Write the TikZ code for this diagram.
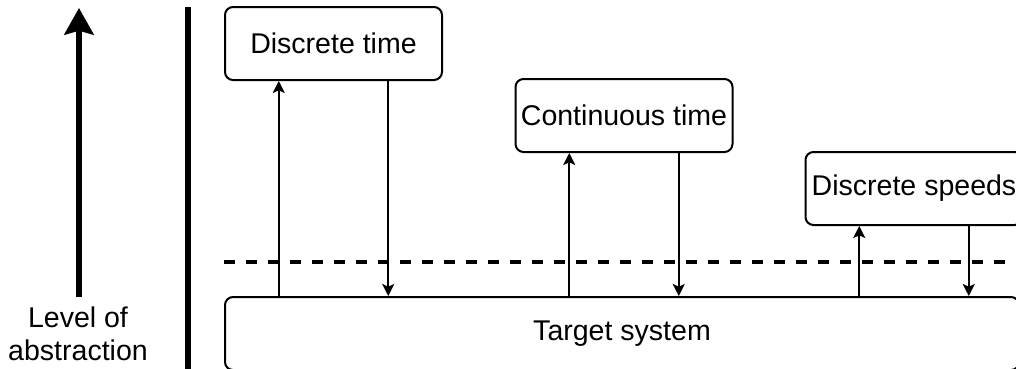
\documentclass[tikz,border=0pt]{standalone}
\usepackage{fontspec}
\setmainfont{Liberation Sans}
\usetikzlibrary{arrows.meta,calc}
\begin{document}
\begin{tikzpicture}[x=0.75pt,y=-0.75pt,
  txt/.style={font=\fontsize{21.4}{24.75}\selectfont},
  box/.style={txt, draw, line width=1.5pt, rounded corners=6pt,
    minimum width=162.75pt, minimum height=54.75pt, inner sep=0pt},
  conn/.style={line width=1.5pt, -{Stealth[length=9pt,width=9pt,inset=2pt]}},
  levelarrow/.style={line width=4pt, -{Stealth[length=20pt,width=22pt,inset=3pt]}},
  divider/.style={line width=4pt},
  boundary/.style={line width=2.5pt, dash pattern=on 8.25pt off 8.25pt}]
\clip (0,0) rectangle (1016,368);
\useasboundingbox (0,0) rectangle (1016,368);

% abstraction axis
\coordinate (axisB) at (79,297);
\coordinate (axisT) at (79,8);
\draw[levelarrow] (axisB) -- (axisT);
\node[txt, align=center, anchor=base, inner sep=0pt] (lvl) at (78,360) {Level of\\abstraction};

% separator
\coordinate (barT) at (188,7);
\coordinate (barB) at (188,372);
\draw[divider] (barT) -- (barB);

% models and target
\node[box] (dt) at (333.5,43.5) {Discrete time};
\node[box] (ct) at (624,115.5) {Continuous time};
\node[box] (ds) at (914,188.5) {Discrete speeds};
\node[box, minimum width=595.5pt] (ts) at (622,333.5) {Target system};

% abstraction boundary
\coordinate (dashL) at (224,262);
\coordinate (dashR) at (1030,262);
\draw[boundary] (dashL) -- (dashR);

% abstraction / refinement links
\foreach \m in {dt,ct,ds}{
  \coordinate (\m up) at ($(\m.south west)!0.25!(\m.south east)$);
  \coordinate (\m dn) at ($(\m.south west)!0.75!(\m.south east)$);
  \draw[conn] (\m up |- ts.north) -- (\m up);
  \draw[conn] (\m dn) -- (\m dn |- ts.north);
}
\end{tikzpicture}
\end{document}
